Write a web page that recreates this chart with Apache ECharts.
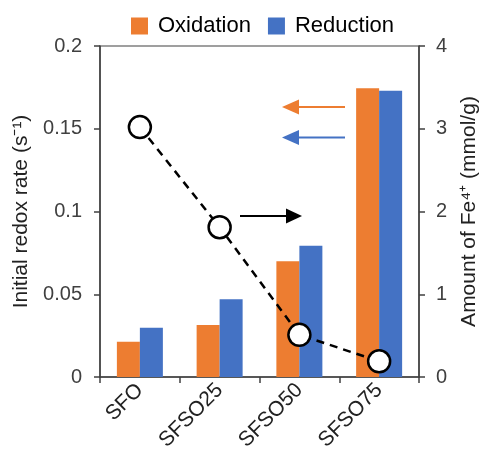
<!DOCTYPE html>
<html><head><meta charset="utf-8">
<script src="https://cdn.jsdelivr.net/npm/echarts@6/dist/echarts.min.js"></script>
<style>html,body{margin:0;padding:0;background:#fff}#c{width:488px;height:466px}</style>
</head><body><div id="c"></div>
<script>
const categories = ['SFO', 'SFSO25', 'SFSO50', 'SFSO75'];
const oxidation = [0.0213, 0.0314, 0.0700, 0.1744];
const reduction = [0.0298, 0.0470, 0.0793, 0.1730];
const fe4 = [3.02, 1.81, 0.51, 0.19];
const leftTicks = { min: 0, max: 0.2, interval: 0.05 };
const rightTicks = { min: 0, max: 4, interval: 1 };

const font = 'Liberation Sans, Arial, sans-serif';
const axisColor = '#404040';
const chart = echarts.init(document.getElementById('c'));
chart.setOption({
  animation: false,
  textStyle: { fontFamily: font },
  legend: {
    data: ['Oxidation', 'Reduction'],
    top: 10, left: 126,
    itemWidth: 17, itemHeight: 17, itemGap: 17,
    icon: 'rect',
    textStyle: { fontSize: 22, color: '#000', fontFamily: font, padding: [0, 0, 0, 5] }
  },
  grid: { left: 100, right: 67, top: 46, bottom: 89, show: true, borderColor: axisColor, borderWidth: 1.2 },
  xAxis: {
    type: 'category', data: categories,
    axisLine: { lineStyle: { color: axisColor, width: 1.5 } },
    axisTick: { show: true, length: 6, lineStyle: { color: axisColor, width: 1.5 } },
    axisLabel: { rotate: 45, fontSize: 21, color: '#222', margin: 10, fontFamily: font }
  },
  yAxis: [{
    type: 'value', min: leftTicks.min, max: leftTicks.max, interval: leftTicks.interval,
    name: 'Initial redox rate (s\u207B\u00B9)', nameLocation: 'middle', nameGap: 66,
    nameTextStyle: { fontSize: 21, color: '#222', fontFamily: font },
    axisLine: { show: true, lineStyle: { color: axisColor, width: 1.5 } },
    axisTick: { show: true, length: 6, lineStyle: { color: axisColor, width: 1.5 } },
    axisLabel: { fontSize: 20, color: '#404040', margin: 18, fontFamily: font },
    splitLine: { show: false }
  }, {
    type: 'value', min: rightTicks.min, max: rightTicks.max, interval: rightTicks.interval,
    name: 'Amount of Fe\u2074\u207A (mmol/g)', nameLocation: 'middle', nameGap: 40,
    nameRotate: 90,
    nameTextStyle: { fontSize: 21, color: '#222', fontFamily: font },
    axisLine: { show: true, lineStyle: { color: axisColor, width: 1.5 } },
    axisTick: { show: true, length: 6, lineStyle: { color: axisColor, width: 1.5 } },
    axisLabel: { fontSize: 20, color: '#404040', margin: 17, fontFamily: font },
    splitLine: { show: false }
  }],
  series: [{
    name: 'Oxidation', type: 'bar', data: oxidation, barWidth: 23, barGap: '0%',
    itemStyle: { color: '#ED7D31' }
  }, {
    name: 'Reduction', type: 'bar', data: reduction, barWidth: 23,
    itemStyle: { color: '#4472C4' }
  }, {
    name: 'Fe4+', type: 'line', yAxisIndex: 1, data: fe4,
    symbol: 'circle', symbolSize: 22, z: 5,
    lineStyle: { color: '#000', width: 2.5, type: [8, 6] },
    itemStyle: { color: '#fff', borderColor: '#000', borderWidth: 2.5 }
  }],
  graphic: [
    { type: 'line', shape: { x1: 345, y1: 107, x2: 297, y2: 107 }, style: { stroke: '#ED7D31', lineWidth: 2 } },
    { type: 'polygon', shape: { points: [[282, 107], [299, 99.5], [299, 114.5]] }, style: { fill: '#ED7D31' } },
    { type: 'line', shape: { x1: 345, y1: 137.5, x2: 297, y2: 137.5 }, style: { stroke: '#4472C4', lineWidth: 2 } },
    { type: 'polygon', shape: { points: [[282, 137.5], [299, 130], [299, 145]] }, style: { fill: '#4472C4' } },
    { type: 'line', shape: { x1: 240, y1: 216, x2: 289, y2: 216 }, style: { stroke: '#000', lineWidth: 2 } },
    { type: 'polygon', shape: { points: [[302, 216], [286, 208.5], [286, 223.5]] }, style: { fill: '#000' } }
  ]
});
</script>
</body></html>
